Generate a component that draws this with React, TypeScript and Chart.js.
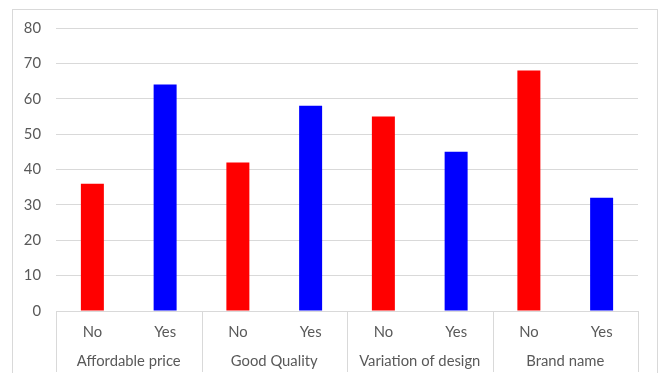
import React, { useEffect, useRef } from "react";
import { Chart, registerables } from "chart.js";

Chart.register(...registerables);

const answers = ["No", "Yes", "No", "Yes", "No", "Yes", "No", "Yes"];
const groups = ["Affordable price", "Good Quality", "Variation of design", "Brand name"];
const values = [36, 64, 42, 58, 55, 45, 68, 32];
const barColors = ["#ff0000", "#0000ff", "#ff0000", "#0000ff", "#ff0000", "#0000ff", "#ff0000", "#0000ff"];
const yMin = 0;
const yMax = 80;
const yStep = 10;

const FONT = "Lato, 'Open Sans', sans-serif";
const TEXT = "#595959";
const LINE = "#d9d9d9";

const separatorPlugin = {
  id: "groupSeparators",
  afterDraw(chart: any) {
    const x = chart.scales.x;
    const x2 = chart.scales.x2;
    const ctx = chart.ctx;
    const top = chart.chartArea.bottom;
    const bottom = x2.bottom - 1;
    ctx.save();
    ctx.strokeStyle = LINE;
    ctx.lineWidth = 1;
    ctx.beginPath();
    for (let g = 0; g <= groups.length; g++) {
      const px = Math.round(x.getPixelForValue(g * 2 - 0.5)) + 0.5;
      ctx.moveTo(px, top);
      ctx.lineTo(px, bottom);
    }
    ctx.stroke();
    ctx.restore();
  },
};

export default function App() {
  const ref = useRef<HTMLCanvasElement>(null);
  useEffect(() => {
    document.body.style.overflow = "hidden";
    const chart = new Chart(ref.current!, {
      type: "bar",
      data: {
        labels: answers,
        datasets: [
          {
            data: values,
            backgroundColor: barColors,
            borderWidth: 0,
            categoryPercentage: 1,
            barPercentage: 0.316,
          },
        ],
      },
      options: {
        responsive: false,
        animation: false,
        devicePixelRatio: 1,
        layout: { padding: { left: 0, right: 23, top: 28, bottom: 0 } },
        plugins: { legend: { display: false }, tooltip: { enabled: false } },
        scales: {
          x: {
            type: "category",
            offset: true,
            grid: { display: false, drawTicks: false },
            border: { display: true, color: LINE, width: 1 },
            ticks: { color: TEXT, font: { family: FONT, size: 14.8 }, padding: 12, maxRotation: 0 },
            afterFit: (s: any) => { s.height = 42; },
          },
          x2: {
            type: "category",
            position: "bottom",
            labels: groups,
            offset: true,
            grid: { display: false, drawTicks: false },
            border: { display: false },
            ticks: { color: TEXT, font: { family: FONT, size: 14.8 }, padding: -1, maxRotation: 0 },
            afterFit: (s: any) => { s.height = 20; },
          },
          y: {
            min: yMin,
            max: yMax,
            ticks: { stepSize: yStep, color: TEXT, font: { family: FONT, size: 14.8 }, padding: 15 },
            grid: { color: LINE, drawTicks: false, lineWidth: 1 },
            border: { display: false },
            afterFit: (s: any) => { s.width = 56; },
          },
        },
      },
      plugins: [separatorPlugin],
    });
    return () => chart.destroy();
  }, []);
  return (
    <div>
      <div
        style={{
          position: "absolute",
          left: 12,
          top: 9,
          width: 646,
          height: 364,
          boxSizing: "border-box",
          borderTop: "1px solid #d9d9d9",
          borderLeft: "1px solid #d9d9d9",
          borderRight: "1px solid #d9d9d9",
        }}
      />
      <canvas
        ref={ref}
        width={661}
        height={373}
        style={{ position: "absolute", left: 0, top: 0, width: 661, height: 373 }}
      />
    </div>
  );
}
